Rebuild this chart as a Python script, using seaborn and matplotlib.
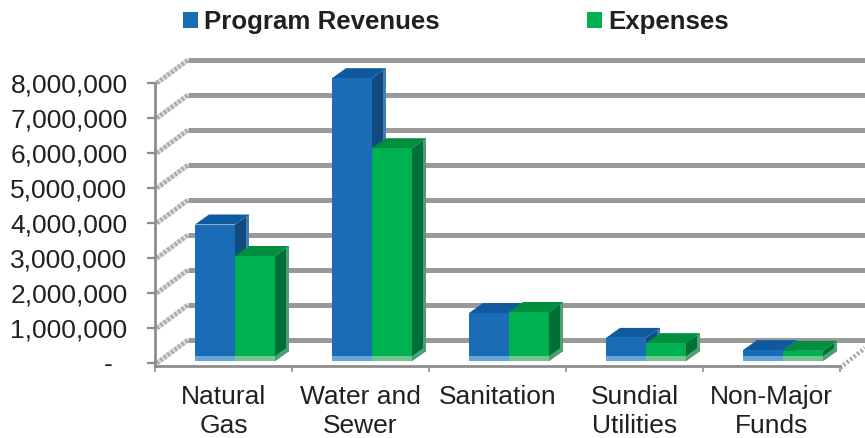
import matplotlib
matplotlib.use("Agg")
import matplotlib.pyplot as plt
import pandas as pd
import seaborn as sns
from matplotlib.patches import Polygon, Rectangle

categories = ["Natural\nGas", "Water and\nSewer", "Sanitation", "Sundial\nUtilities", "Non-Major\nFunds"]
program_revenues = [3900000, 8080000, 1370000, 660000, 310000]
expenses = [3000000, 6080000, 1400000, 510000, 290000]
yticks = [0, 1000000, 2000000, 3000000, 4000000, 5000000, 6000000, 7000000, 8000000]
yticklabels = ["-  ", "1,000,000", "2,000,000", "3,000,000", "4,000,000", "5,000,000", "6,000,000", "7,000,000", "8,000,000"]

df = pd.DataFrame({
    "category": categories * 2,
    "series": ["Program Revenues"] * 5 + ["Expenses"] * 5,
    "value": program_revenues + expenses,
})

sns.set_theme(style="white")
plt.rcParams["font.family"] = ["Liberation Sans", "DejaVu Sans"]
TEXT = "#231f20"
AXIS = "#8c8c8c"

W, H = 865, 438
fig = plt.figure(figsize=(W / 100, H / 100), dpi=100)
ax = fig.add_axes([155 / W, (H - 366) / H, 685 / W, 283 / H])

palette = {"Program Revenues": "#1a6cb7", "Expenses": "#00b14f"}
sns.barplot(data=df, x="category", y="value", hue="series", palette=palette,
            width=0.584, gap=0, dodge=True, saturation=1, linewidth=0, ax=ax)

# pixel sizes converted to data units
px_x = 1 / 137
px_y = 1000000 / 35
ax.set_xlim(-0.5, 4.5)
ax.set_ylim(-3 * px_y, 8000000)

# back wall grid and the oblique side wall
back_dx, back_dy = 33 * px_x, 23 * px_y
for v in yticks:
    ax.plot([-0.5 + 2 * px_x, -0.5 + back_dx], [v, v + back_dy], color="#dcdcdc", lw=3.6,
            clip_on=False, zorder=1, solid_capstyle="butt")
    ax.plot([-0.5 + 2 * px_x, -0.5 + back_dx], [v, v + back_dy], color="#a8a8a8", lw=3.2,
            ls=(0, (0.5, 0.5)), clip_on=False, zorder=1.1)
    ax.plot([-0.5 + back_dx, 4.5 + 25 * px_x], [v + back_dy, v + back_dy], color="#999999", lw=3.6,
            clip_on=False, zorder=1.2, solid_capstyle="butt")
ax.plot([4.5, 4.5 + 25 * px_x], [-5 * px_y, 15 * px_y], color="#a8a8a8", lw=3.2,
        ls=(0, (0.5, 0.5)), clip_on=False, zorder=1.1)

# 3d look built from the bars seaborn drew
shades = [("#0f5a9e", "#124a80", "#62a6dc", "#3f7fb3"), ("#008f3f", "#006f38", "#6fc792", "#4f9f75")]
depth_x, depth_y = 14 * px_x, 10 * px_y
for i, bars in enumerate(ax.containers):
    top_c, side_c, glow_c, edge_c = shades[i]
    for bar in bars:
        bar.set_x(bar.get_x() + 11.5 * px_x)
        bar.set_y(bar.get_y() + 2 * px_y)
        bar.set_clip_on(False)
        bar.set_zorder(3 + i + 0.2)
        x0, y0 = bar.get_x(), bar.get_y()
        x1, y1 = x0 + bar.get_width(), y0 + bar.get_height()
        side = Polygon([(x1, y0), (x1 + depth_x, y0 + depth_y), (x1 + depth_x, y1 + depth_y), (x1, y1)],
                       fc=side_c, ec="none", zorder=3 + i, clip_on=False)
        top = Polygon([(x0, y1), (x0 + depth_x, y1 + depth_y), (x1 + depth_x, y1 + depth_y), (x1, y1)],
                      fc=top_c, ec="none", zorder=3 + i + 0.1, clip_on=False)
        glow = Rectangle((x0, y0), bar.get_width(), 5 * px_y, fc=glow_c, ec="none",
                         zorder=3 + i + 0.3, clip_on=False)
        # lighter rim on the far edge and the foot of the side face
        rim_x = x1 + depth_x - 3 * px_x
        rim = Polygon([(rim_x, y0 + depth_y - 2 * px_y), (x1 + depth_x, y0 + depth_y), (x1 + depth_x, y1 + depth_y),
                       (rim_x, y1 + depth_y - 2 * px_y)], fc=edge_c, ec="none", zorder=3 + i + 0.05, clip_on=False)
        foot = Polygon([(x1, y0), (x1 + depth_x, y0 + depth_y), (x1 + depth_x, y0 + depth_y + 5 * px_y),
                        (x1, y0 + 5 * px_y)], fc=edge_c, ec="none", zorder=3 + i + 0.06, clip_on=False)
        for part in [side, top, glow, rim, foot]:
            ax.add_patch(part)

sns.despine(ax=ax)
for s in ["left", "bottom"]:
    ax.spines[s].set_color(AXIS)
    ax.spines[s].set_linewidth(2.0)
    ax.spines[s].set_zorder(2)

ax.set_xlabel("")
ax.set_ylabel("")
ax.set_yticks(yticks, yticklabels)
ax.tick_params(axis="y", length=5.8, width=1.6, color=AXIS, left=True, pad=14, labelsize=19, labelcolor=TEXT)
ax.set_xticks(range(5), categories, linespacing=1.26)
ax.set_xticks([k - 0.5 for k in range(6)], minor=True)
ax.tick_params(axis="x", which="major", length=0, pad=14, labelsize=19, labelcolor=TEXT)
ax.tick_params(axis="x", which="minor", length=4, width=1.2, color=AXIS, bottom=True)

sns.move_legend(ax, "upper left", bbox_to_anchor=(28 / 685, 1 + 73 / 283), ncols=2, title=None, frameon=False,
                prop={"size": 18.6, "weight": "bold"}, labelcolor=TEXT, handlelength=0.58, handleheight=0.58,
                handletextpad=0.24, columnspacing=5.7, borderaxespad=0, borderpad=0)

fig.savefig("out.png", dpi=100)
